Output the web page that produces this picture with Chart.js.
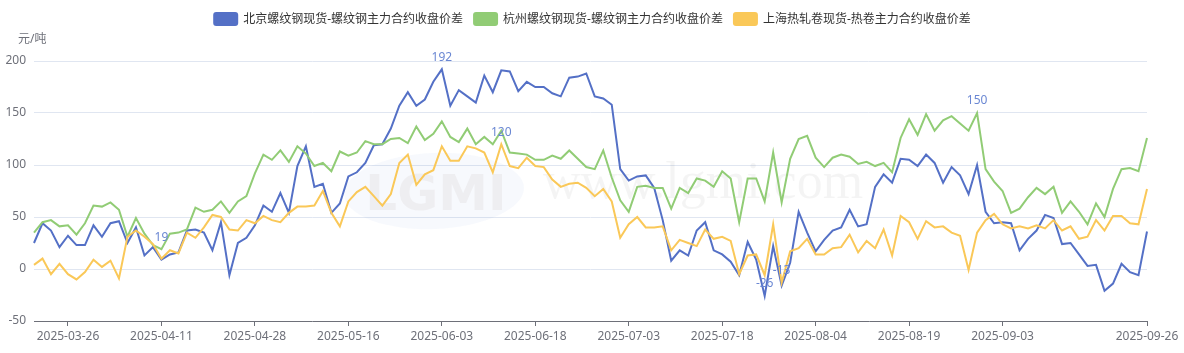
<!DOCTYPE html>
<html>
<head>
<meta charset="utf-8">
<script src="https://cdn.jsdelivr.net/npm/chart.js@4.4.1/dist/chart.umd.min.js"></script>
<style>
  html, body { margin: 0; padding: 0; background: #fff; }
</style>
</head>
<body>
<canvas id="myChart" width="1184" height="353"></canvas>
<script>
// 日期（交易日）
const dates = [
  '2025-03-20','2025-03-21','2025-03-24','2025-03-25','2025-03-26','2025-03-27','2025-03-28','2025-03-31',
  '2025-04-01','2025-04-02','2025-04-03','2025-04-07','2025-04-08','2025-04-09','2025-04-10','2025-04-11',
  '2025-04-14','2025-04-15','2025-04-16','2025-04-17','2025-04-18','2025-04-21','2025-04-22','2025-04-23',
  '2025-04-24','2025-04-25','2025-04-28','2025-04-29','2025-04-30','2025-05-06','2025-05-07','2025-05-08',
  '2025-05-09','2025-05-12','2025-05-13','2025-05-14','2025-05-15','2025-05-16','2025-05-19','2025-05-20',
  '2025-05-21','2025-05-22','2025-05-23','2025-05-26','2025-05-27','2025-05-28','2025-05-29','2025-05-30',
  '2025-06-03','2025-06-04','2025-06-05','2025-06-06','2025-06-09','2025-06-10','2025-06-11','2025-06-12',
  '2025-06-13','2025-06-16','2025-06-17','2025-06-18','2025-06-19','2025-06-20','2025-06-23','2025-06-24',
  '2025-06-25','2025-06-26','2025-06-27','2025-06-30','2025-07-01','2025-07-02','2025-07-03','2025-07-04',
  '2025-07-07','2025-07-08','2025-07-09','2025-07-10','2025-07-11','2025-07-14','2025-07-15','2025-07-16',
  '2025-07-17','2025-07-18','2025-07-21','2025-07-22','2025-07-23','2025-07-24','2025-07-25','2025-07-28',
  '2025-07-29','2025-07-30','2025-07-31','2025-08-01','2025-08-04','2025-08-05','2025-08-06','2025-08-07',
  '2025-08-08','2025-08-11','2025-08-12','2025-08-13','2025-08-14','2025-08-15','2025-08-18','2025-08-19',
  '2025-08-20','2025-08-21','2025-08-22','2025-08-25','2025-08-26','2025-08-27','2025-08-28','2025-08-29',
  '2025-09-01','2025-09-02','2025-09-03','2025-09-04','2025-09-05','2025-09-08','2025-09-09','2025-09-10',
  '2025-09-11','2025-09-12','2025-09-15','2025-09-16','2025-09-17','2025-09-18','2025-09-19','2025-09-22',
  '2025-09-23','2025-09-24','2025-09-25','2025-09-26'
];

// x 轴显示的刻度标签
const tickLabels = ['2025-03-26','2025-04-11','2025-04-28','2025-05-16','2025-06-03','2025-06-18',
  '2025-07-03','2025-07-18','2025-08-04','2025-08-19','2025-09-03','2025-09-26'];

const seriesNames = [
  '北京螺纹钢现货-螺纹钢主力合约收盘价差',
  '杭州螺纹钢现货-螺纹钢主力合约收盘价差',
  '上海热轧卷现货-热卷主力合约收盘价差'
];
const seriesColors = ['#5470c6', '#91cc75', '#fac858'];

// 北京螺纹
const beijing = [
  25, 44, 37, 21, 32, 23, 23, 42, 31, 44, 46, 25, 40, 13, 21, 9, 14, 16, 37, 38,
  35, 18, 45, -6, 25, 30, 42, 61, 55, 73, 54, 99, 118, 79, 82, 54, 63, 89, 93, 102,
  119, 120, 135, 157, 170, 157, 163, 180, 192, 157, 172, 166, 160, 186, 170, 191, 190, 171, 180, 175,
  175, 169, 166, 184, 185, 188, 166, 164, 158, 96, 85, 89, 90, 78, 47, 8, 18, 13, 37, 45,
  18, 14, 7, -6, 26, 9, -26, 22, -16, 6, 55, 35, 17, 28, 37, 40, 57, 41, 43, 79,
  91, 83, 106, 105, 99, 110, 102, 83, 98, 90, 72, 100, 55, 44, 45, 44, 18, 29, 37, 52,
  49, 24, 25, 14, 3, 4, -21, -14, 5, -3, -6, 36
];

// 杭州螺纹
const hangzhou = [
  35, 45, 47, 41, 42, 33, 44, 61, 60, 64, 57, 31, 49, 34, 23, 19, 34, 35, 38, 59,
  55, 57, 65, 54, 65, 70, 92, 110, 105, 114, 103, 118, 111, 99, 102, 94, 113, 109, 112, 123,
  120, 120, 125, 126, 121, 137, 124, 130, 142, 127, 122, 135, 120, 127, 120, 133, 112, 111, 110, 105,
  105, 109, 106, 114, 106, 98, 96, 114, 88, 66, 55, 79, 80, 78, 78, 58, 78, 73, 87, 85,
  79, 94, 87, 45, 87, 87, 65, 112, 64, 106, 125, 128, 107, 98, 107, 110, 108, 101, 103, 99,
  102, 93, 126, 144, 129, 149, 133, 143, 147, 140, 133, 150, 96, 84, 75, 54, 58, 69, 78, 72,
  79, 54, 65, 55, 43, 63, 50, 77, 96, 97, 94, 126
];

// 上海热卷
const shanghai = [
  4, 10, -5, 5, -5, -10, -3, 9, 2, 8, -9, 31, 37, 31, 24, 10, 18, 15, 35, 30,
  40, 52, 50, 38, 37, 47, 44, 51, 47, 45, 54, 60, 60, 61, 75, 54, 41, 65, 74, 79,
  70, 61, 72, 102, 110, 81, 91, 95, 118, 104, 104, 118, 116, 112, 93, 120, 99, 97, 107, 99,
  98, 86, 79, 82, 83, 78, 70, 77, 65, 30, 43, 50, 40, 40, 41, 18, 28, 25, 22, 38,
  29, 31, 27, -5, 13, 14, -6, 43, -13, 17, 20, 29, 14, 14, 20, 21, 33, 16, 27, 20,
  38, 13, 51, 45, 29, 46, 40, 41, 35, 32, -1, 35, 47, 53, 43, 39, 41, 39, 42, 39,
  47, 37, 41, 29, 31, 47, 37, 51, 51, 44, 43, 77
];

const fontFamily = '"Noto Sans", "Noto Sans CJK SC", sans-serif';
Chart.defaults.font.family = fontFamily;
Chart.defaults.font.size = 12;

// 图例、单位、水印、最大最小值标注
const extras = {
  id: 'extras',
  beforeDatasetsDraw(chart) {
    const ctx = chart.ctx;
    ctx.save();
    ctx.beginPath();
    ctx.ellipse(434, 191, 90, 38, -0.04, 0, Math.PI * 2);
    ctx.fillStyle = 'rgba(120, 150, 215, 0.06)';
    ctx.fill();
    ctx.font = 'bold 50px "DejaVu Sans"';
    ctx.textAlign = 'center';
    ctx.textBaseline = 'alphabetic';
    ctx.fillStyle = 'rgba(200, 190, 190, 0.18)';
    ctx.fillText('LGMI', 436, 210);
    ctx.font = '52px "Liberation Serif"';
    ctx.textAlign = 'left';
    ctx.fillStyle = 'rgba(0, 0, 0, 0.045)';
    ctx.fillText('www.lgmi.com', 543, 198);
    ctx.restore();
  },
  afterDatasetsDraw(chart) {
    const ctx = chart.ctx;
    ctx.save();
    ctx.font = '12px ' + fontFamily;
    ctx.fillStyle = '#6a87d3';
    ctx.textAlign = 'center';
    ctx.textBaseline = 'middle';
    chart.data.datasets.forEach(function(ds, i) {
      const meta = chart.getDatasetMeta(i);
      const vals = ds.data;
      const maxIdx = vals.indexOf(Math.max(...vals));
      const minIdx = vals.indexOf(Math.min(...vals));
      [maxIdx, minIdx].forEach(function(idx) {
        const pt = meta.data[idx];
        ctx.fillText(String(vals[idx]), pt.x, pt.y - 12);
      });
    });
    ctx.restore();
  },
  afterDraw(chart) {
    const ctx = chart.ctx;
    ctx.save();
    ctx.font = '12px ' + fontFamily;
    ctx.textBaseline = 'middle';
    ctx.textAlign = 'left';
    // 图例
    const widths = seriesNames.map(function(n) { return 30 + ctx.measureText(n).width; });
    const total = widths.reduce(function(a, b) { return a + b; }, 0) + 10 * (widths.length - 1);
    let x = (chart.width - total) / 2;
    seriesNames.forEach(function(name, i) {
      ctx.beginPath();
      ctx.roundRect(x, 12, 25, 14, 3);
      ctx.fillStyle = seriesColors[i];
      ctx.fill();
      ctx.fillStyle = '#333';
      ctx.fillText(name, x + 30, 19.5);
      x += widths[i] + 10;
    });
    // 单位
    ctx.fillStyle = '#6e7079';
    ctx.fillText('元/吨', 18, 40);
    ctx.restore();
  }
};

const chart = new Chart(document.getElementById('myChart'), {
  type: 'line',
  data: {
    labels: dates,
    datasets: [
      { label: seriesNames[0], data: beijing, borderColor: seriesColors[0], backgroundColor: seriesColors[0], order: 2 },
      { label: seriesNames[1], data: hangzhou, borderColor: seriesColors[1], backgroundColor: seriesColors[1], order: 1 },
      { label: seriesNames[2], data: shanghai, borderColor: seriesColors[2], backgroundColor: seriesColors[2], order: 0 }
    ]
  },
  options: {
    responsive: false,
    animation: false,
    layout: { padding: { left: 0, right: 37, top: 61, bottom: 0 } },
    elements: {
      line: { borderWidth: 2, tension: 0 },
      point: { radius: 0, hoverRadius: 0 }
    },
    scales: {
      x: {
        afterFit: function(s) { s.height = 32; },
        border: { display: true, color: '#6e7079', width: 1 },
        grid: {
          drawOnChartArea: false,
          drawTicks: true,
          tickLength: 5,
          tickColor: function(c) { return tickLabels.includes(dates[c.index]) ? '#6e7079' : 'rgba(0,0,0,0)'; }
        },
        ticks: {
          autoSkip: false,
          maxRotation: 0,
          padding: 3,
          color: '#6e7079',
          callback: function(value) {
            const d = this.getLabelForValue(value);
            return tickLabels.includes(d) ? d : '';
          }
        }
      },
      y: {
        min: -50,
        max: 200,
        afterFit: function(s) { s.width = 34; },
        border: { display: false },
        grid: { color: '#e0e6f1', drawTicks: false },
        ticks: { stepSize: 50, padding: 8, color: '#6e7079' }
      }
    },
    plugins: {
      legend: { display: false },
      tooltip: { enabled: false }
    }
  },
  plugins: [extras]
});
</script>
</body>
</html>
